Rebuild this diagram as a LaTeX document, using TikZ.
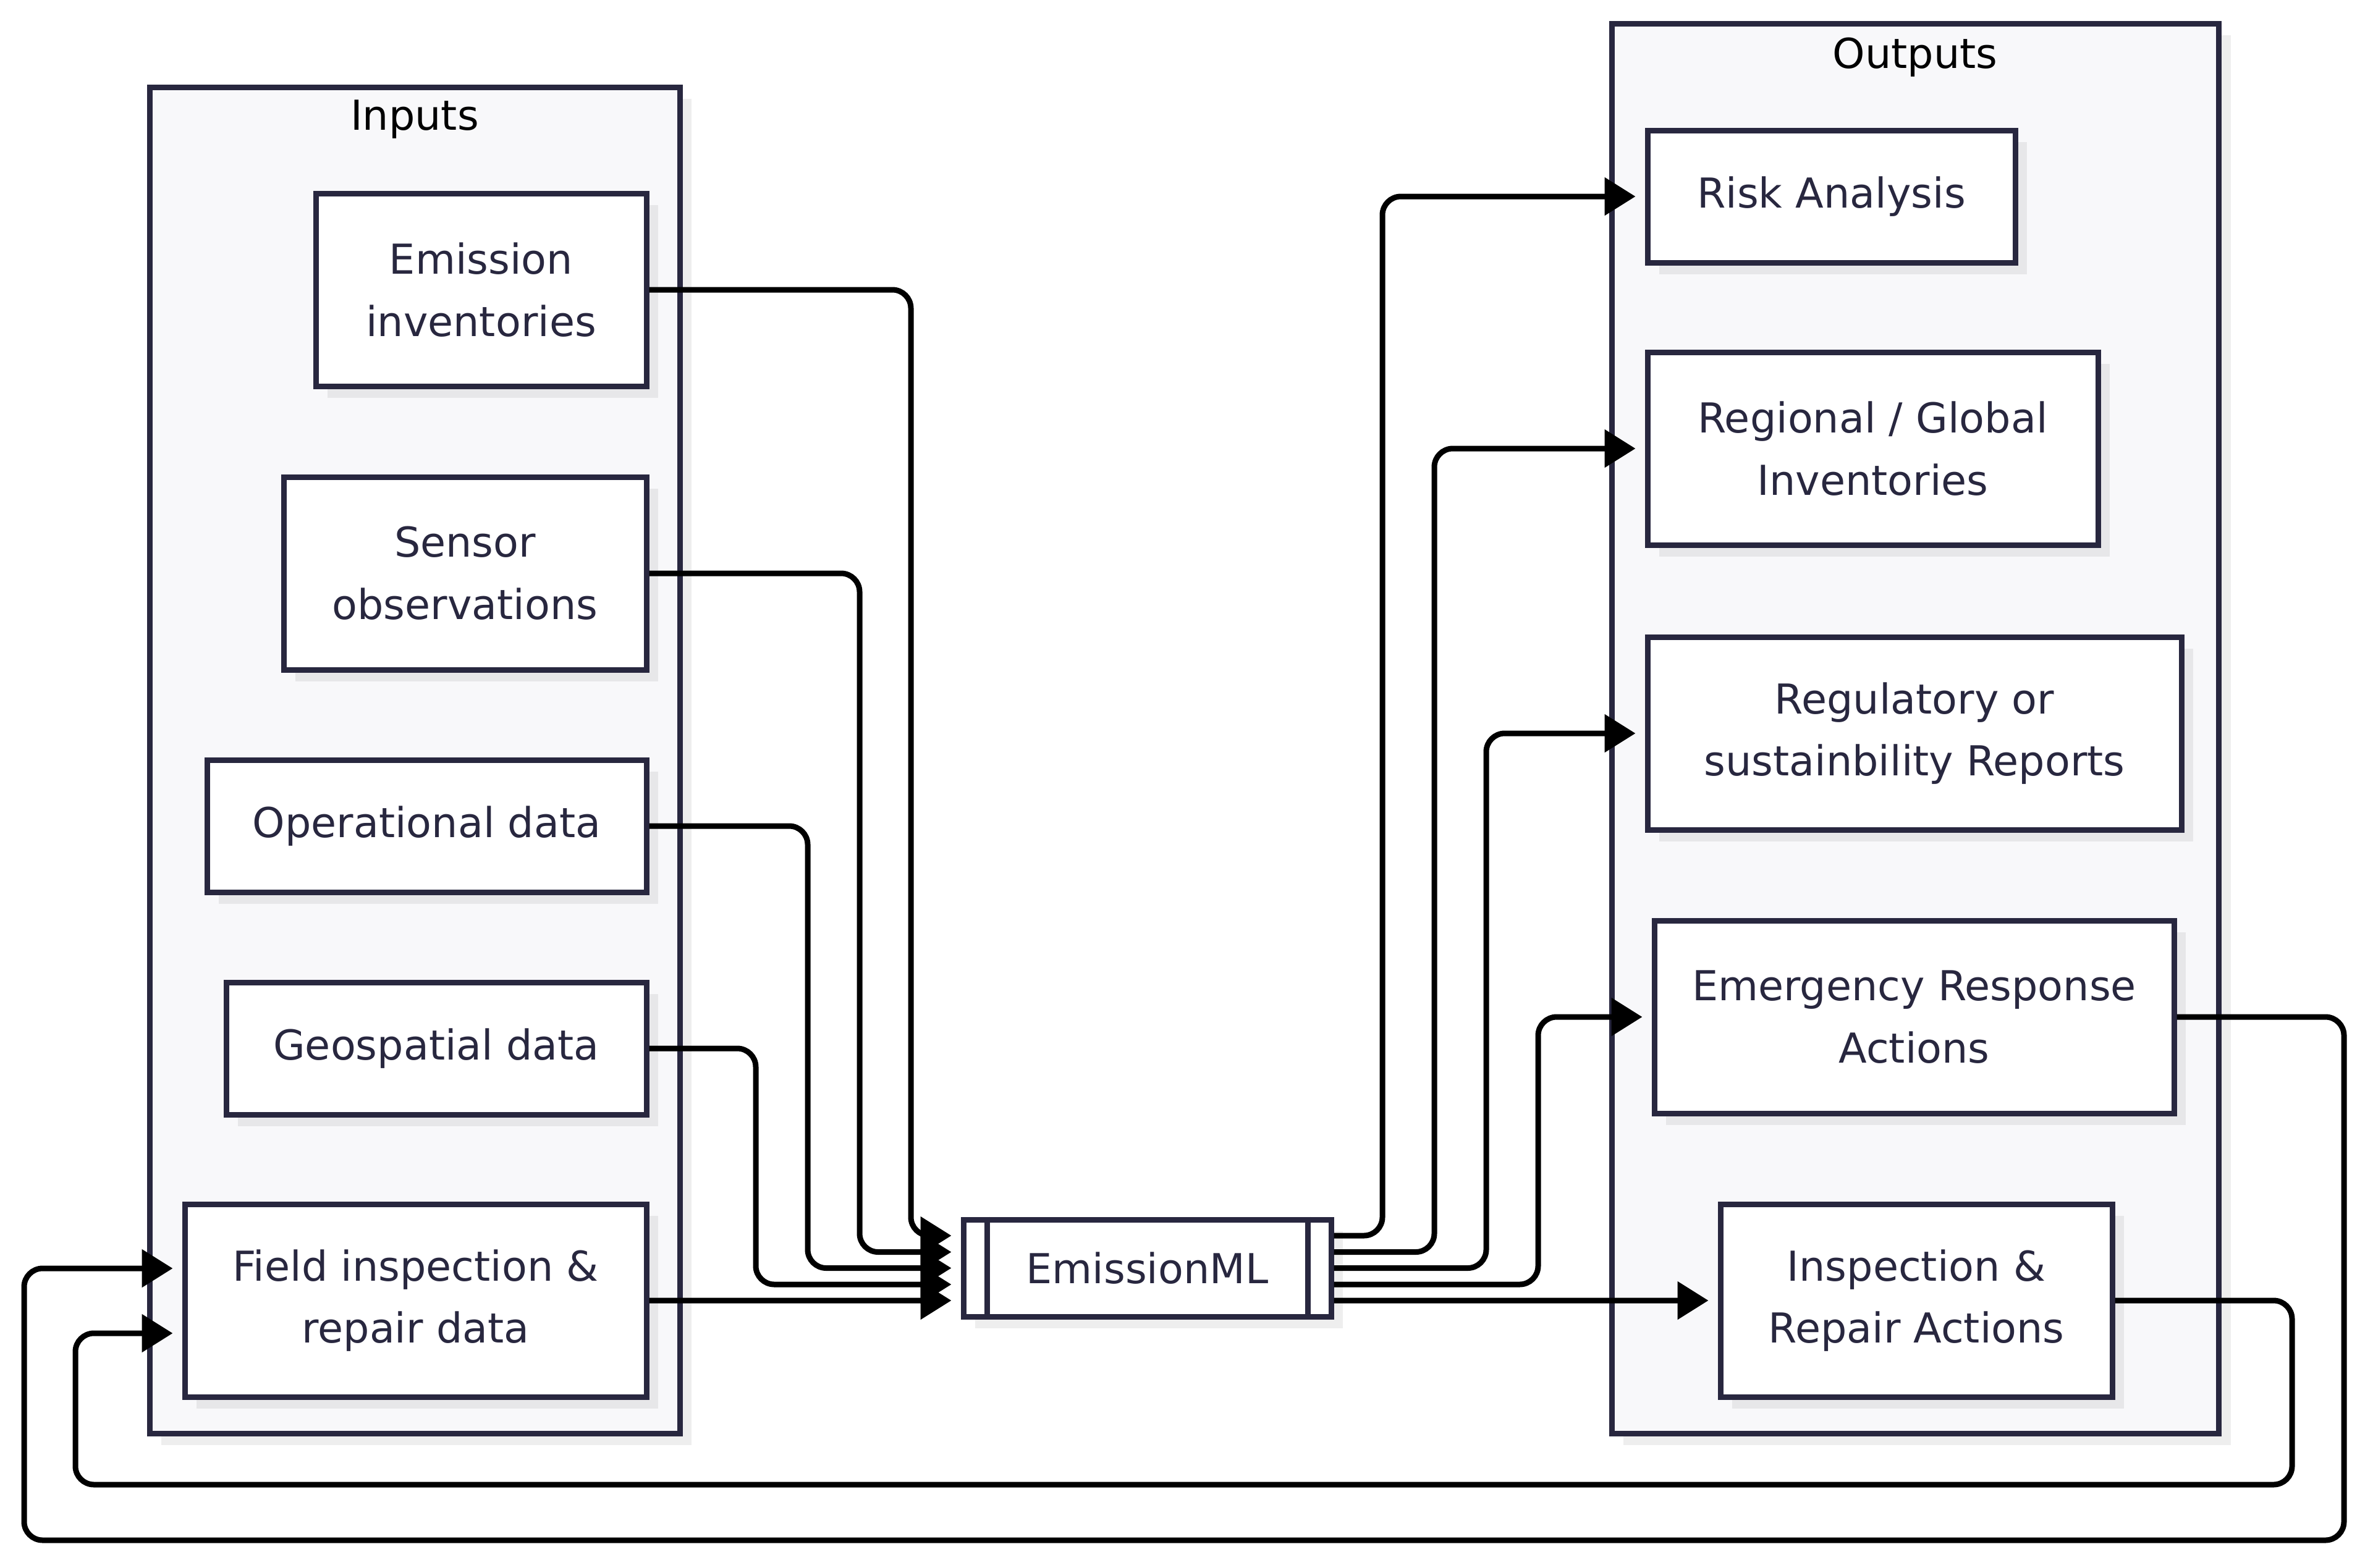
\documentclass[tikz,border=0pt]{standalone}
\usepackage{xcolor}
\usepackage{fontspec}
\setmainfont{DejaVu Sans}
\usetikzlibrary{arrows.meta,shadows}
\definecolor{navy}{HTML}{28273F}
\definecolor{panel}{HTML}{F8F8FA}

\begin{document}
\begin{tikzpicture}[
		font=\fontsize{19pt}{28.7pt}\selectfont,
		dropsh/.style={drop shadow={shadow xshift=0.19cm,shadow yshift=-0.19cm,fill=black,opacity=0.065}},
		panelbox/.style={draw=navy,fill=panel,line width=0.09cm,dropsh},
		inbox/.style={draw=navy,fill=white,text=navy,line width=0.09cm,align=center,dropsh},
		flow/.style={black,line width=0.09cm,rounded corners=0.3cm,-{Triangle[length=0.5cm,width=0.6cm]},shorten >=0.15cm}]
		\useasboundingbox (0,0) rectangle (38.4,-25.37);
		\draw[panelbox] (2.42,-1.41) rectangle (11.00,-23.20);
		\draw[panelbox] (26.08,-0.38) rectangle (35.905,-23.20);
		\node[anchor=base] (tin) at (6.71,-2.10) {Inputs};
		\node[anchor=base] (tout) at (30.99,-1.10) {Outputs};
		\node[inbox,minimum width=5.35cm,minimum height=3.12cm] (ein) at (7.785,-4.69) {Emission\\inventories};
		\node[inbox,minimum width=5.87cm,minimum height=3.12cm] (sen) at (7.525,-9.28) {Sensor\\observations};
		\node[inbox,minimum width=7.11cm,minimum height=2.14cm] (opd) at (6.905,-13.37) {Operational data};
		\node[inbox,minimum width=6.80cm,minimum height=2.14cm] (geo) at (7.06,-16.97) {Geospatial data};
		\node[inbox,minimum width=7.47cm,minimum height=3.12cm] (fld) at (6.725,-21.05) {Field inspection \&\\repair data};
		\node[inbox,minimum width=5.95cm,minimum height=1.57cm] (ml) at (18.565,-20.525) {EmissionML};
		\draw[navy,line width=0.09cm] ([xshift=0.425cm]ml.north west) -- ([xshift=0.425cm]ml.south west);
		\draw[navy,line width=0.09cm] ([xshift=-0.425cm]ml.north east) -- ([xshift=-0.425cm]ml.south east);
		\node[inbox,minimum width=5.95cm,minimum height=2.14cm] (risk) at (29.635,-3.18) {Risk Analysis};
		\node[inbox,minimum width=7.29cm,minimum height=3.12cm] (reg) at (30.305,-7.26) {Regional / Global\\Inventories};
		\node[inbox,minimum width=8.64cm,minimum height=3.12cm] (rep) at (30.98,-11.87) {Regulatory or\\sustainbility Reports};
		\node[inbox,minimum width=8.41cm,minimum height=3.12cm] (emr) at (30.975,-16.46) {Emergency Response\\Actions};
		\node[inbox,minimum width=6.34cm,minimum height=3.12cm] (ira) at (31.01,-21.05) {Inspection \&\\Repair Actions};
		\draw[flow] (ein.east) -- (14.74,-4.69) |- ([yshift=0.525cm]ml.west);
		\draw[flow] (sen.east) -- (13.91,-9.28) |- ([yshift=0.26cm]ml.west);
		\draw[flow] (opd.east) -- (13.07,-13.37) |- (ml.west);
		\draw[flow] (geo.east) -- (12.23,-16.97) |- ([yshift=-0.265cm]ml.west);
		\draw[flow] (fld.east) -- ([yshift=-0.525cm]ml.west);
		\draw[flow] ([yshift=0.525cm]ml.east) -- (22.37,-20.0) |- (risk);
		\draw[flow] ([yshift=0.26cm]ml.east) -- (23.21,-20.265) |- (reg);
		\draw[flow] (ml.east) -- (24.05,-20.525) |- (rep);
		\draw[flow] ([yshift=-0.265cm]ml.east) -- (24.89,-20.79) |- (emr);
		\draw[flow] ([yshift=-0.525cm]ml.east) -- (ira);
		\draw[flow] (emr.east) -| (37.93,-24.93) -| (0.39,-20.53) -- ([yshift=0.52cm]fld.west);
		\draw[flow] (ira.east) -| (37.09,-24.03) -| (1.22,-21.58) -- ([yshift=-0.53cm]fld.west);
	\end{tikzpicture}
\end{document}
